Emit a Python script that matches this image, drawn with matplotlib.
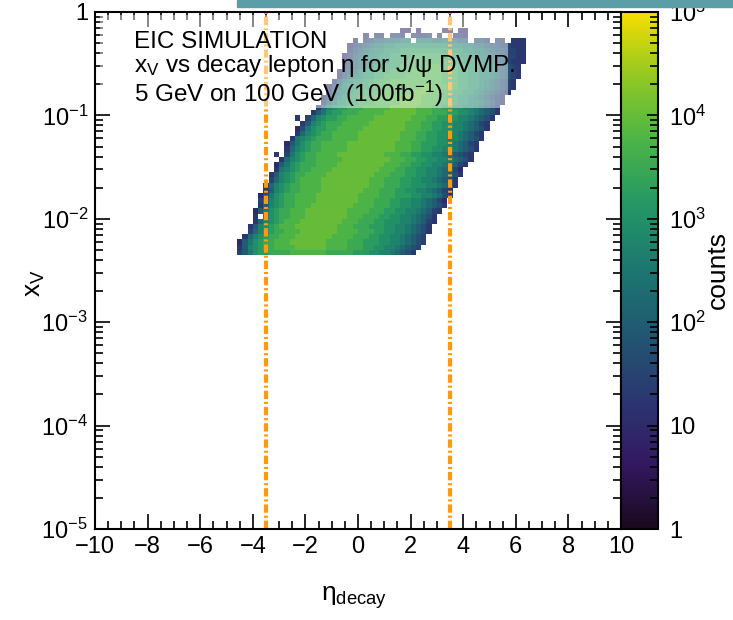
import numpy as np
import matplotlib.pyplot as plt
from matplotlib.colors import LogNorm, LinearSegmentedColormap
from matplotlib.patches import Rectangle
from matplotlib.ticker import LogLocator, MultipleLocator, FuncFormatter, NullFormatter

plt.rcParams['font.family'] = 'Liberation Sans'
plt.rcParams['mathtext.fontset'] = 'custom'
plt.rcParams['mathtext.rm'] = 'Liberation Sans'
plt.rcParams['mathtext.it'] = 'Liberation Sans'
plt.rcParams['mathtext.bf'] = 'Liberation Sans:bold'

# histogram binning: 100 bins in eta, 100 log bins in x_V
eta_edges = np.linspace(-10, 10, 101)
xv_edges = np.logspace(-5, 0, 101)

# cell code -> log10(counts) = index / 4, '.' = empty cell
levels = "0123456789ABCDEFGHIJ"

# histogram rows, bottom row (x_V bin 53) to top row (bin 96)
first_row = 53
row_eta0 = [-4.6, -4.6, -4.6, -4.4, -4.2, -4.2, -4.0, -4.0, -4.0, -3.8,
            -3.8, -3.8, -3.6, -3.6, -3.4, -3.4, -3.2, -3.2, -3.0, -3.2,
            -2.8, -2.8, -2.6, -2.4, -2.4, -2.2, -2.4, -1.8, -1.6, -1.4,
            -1.4, -1.2, -1.2, -1.0, -0.8, -0.8, -0.6, -0.6, -0.6, -0.4,
            -0.4, -0.2, 0.2, 1.6]
row_cells = [
    "68ACDDEEEEFFFFFFFEEEEEDDDCCBBA9875",
    "58BCDEEFFFFGGGGGGFFFFEEEDDCCBBA9876",
    "48ACDEEFFFGGGGGGGFFFFEEEDDDCCBBA9876",
    "59BCDEEFFFGGGGGGGFFFFEEEDDCCBBA9876",
    "69BCDEEFFFGGGGGGGFFFFEEEDDCCBBA9875",
    "58BCDEFFFGGGGGGGGFFFEEEDDDCCBBA9875",
    "59BCDEFFFGGGGGGGGFFFEEEDDCCCBBA9865",
    "5.ACDEEFFFGGGGGGGGFFFEEEDDCCBBA9875",
    "48ACDEEFFFGGGGGGGGFFFFEEEDDCCBBA9865",
    "58BCDEEFFFGGGGGGGGFFFFEEEDDCCBBA9875",
    "69BCDEEFFFFGGGGGGGGFFFEEEDDCCBBA9864",
    "47ACDEEFFFFGGGGGGGGFFFFEEEDDDCCBBA975",
    "58BCDEEFFFFGGGGGGGGFFFEEEDDCCBBA9865",
    "59BCDEEFFFFGGGGGGGGGFFFEEEDDCCCBBA975",
    "69BCDEFFFFGGGGGGGGGFFFEEEDDCCBBA9875",
    "58BCDEEFFFFGGGGGGGGGFFFEEEDDCCBBA9875",
    "5ABCDEEFFFFGGGGGGGGGFFFEEDDCCBBA9864",
    "48ACDEEEFFFFGGGGGGGGGFFFEEDDCCBBA9865",
    "59BCDEEFFFFFGGGGGGGGGFFFEEDDCCBBA9875",
    "5.6ACDEEFFFFGGGGGGGGGFFFEEDDCCBBA98765",
    "59BCDEEFFFFFGGGGGGGGGFFFEEDDCCBBA9875",
    "48ACDEEFFFFFGGGGGGGGGFFFEEDDDCCBA9865",
    "5ABCDEEEFFFFFGGGGGGGGFFFEEDDCCBBA9875",
    "59BCDEEFFFFFGGGGGGGGFFFEEDDCCBBA9865",
    "47ACDDEEFFFFFGGGGGGGGFFFEEDDCCBBA9875",
    "58BCDEEEFFFFFGGGGGGGFFFEEDDCCBBA9865",
    "5.69BCDDEEFFFFFGGGGGGGFFFEEDDCCBBA9875",
    "58ACDDEEEFFFFFGGGGGGFFFEEEDDCCBA9875",
    "59BCDDEEEFFFFFGGGGGFFFEEDDCCBBA9875",
    "58ACCDDEEEFFFFFGGGGFFFEEDDCCBBA9865",
    "479BCDDEEEFFFFFFGGGFFFEEDDCCBA98765",
    "58ABCDDEEEFFFFFFGGGFFFEEDDCCBA98765",
    "479BCCDDEEEFFFFFFFGGFFFEEDDCCBA98765",
    "58ABCCDDEEEFFFFFFFFFFEEEDDCCBA98765",
    "479ABCCDDEEEEFFFFFFFEEEDDCCBBA98765",
    "5789BCCDDDEEEEFFFFFFEEEDDCCBBA98765",
    "5789ABCCDDDEEEEEFFFEEEDDCCBBA98765",
    "4789ABBCCDDDEEEEEEEEDDDCCBBA9876555",
    "4689ABBCCDDDDEEEEEEDDDCCBBAA9876655",
    "5789ABBCCCDDDDDDDDDCCCBBAA98776655",
    "46789AABBCCCCCCCCCCBBBAA9987766555",
    "4.6788999AA.AAA99A9988.776.66.555",
    "4.55.665.6556.5..554",
    "44.4....44.44",
]

eta_cut = [-3.5, 3.5]
box_text = ["EIC SIMULATION",
            r"$\mathregular{x_{V}}$ vs decay lepton η for J/ψ DVMP.",
            r"5 GeV on 100 GeV (100fb$^{\mathregular{-1}}$)"]

# ROOT kViridis palette
root_viridis = LinearSegmentedColormap.from_list('root_viridis', [
    (26 / 255, 9 / 255, 30 / 255), (51 / 255, 24 / 255, 96 / 255),
    (43 / 255, 55 / 255, 112 / 255), (33 / 255, 87 / 255, 114 / 255),
    (28 / 255, 118 / 255, 112 / 255), (35 / 255, 150 / 255, 101 / 255),
    (74 / 255, 180 / 255, 72 / 255), (144 / 255, 200 / 255, 35 / 255),
    (246 / 255, 222 / 255, 0 / 255)])

# fill the 2D histogram
counts = np.full((100, 100), np.nan)
for r, (eta0, cells) in enumerate(zip(row_eta0, row_cells)):
    j0 = int(round((eta0 + 10) / 0.2))
    for i, c in enumerate(cells):
        if c != '.':
            counts[first_row + r, j0 + i] = 10 ** (levels.index(c) / 4)

fig = plt.figure(figsize=(7.33, 6.2), dpi=100)
ax = fig.add_axes([95 / 733, 91 / 620, 526 / 733, 517 / 620])
cax = fig.add_axes([621 / 733, 91 / 620, 37 / 733, 517 / 620])

mesh = ax.pcolormesh(eta_edges, xv_edges, counts, cmap=root_viridis,
                     norm=LogNorm(1, 1e5), zorder=1)
for e in eta_cut:
    ax.axvline(e, color='#ff9a10', lw=3, dashes=(2, 0.7, 0.5, 0.7), zorder=2)

ax.set_yscale('log')
ax.set_xlim(-10, 10)
ax.set_ylim(1e-5, 1)

# translucent text box
ax.add_patch(Rectangle((0.01, 0.814), 0.775, 0.18, transform=ax.transAxes,
                       facecolor='white', alpha=0.45, edgecolor='none', zorder=3))
for t, yy in zip(box_text, [0.930, 0.884, 0.826]):
    ax.text(0.074, yy, t, transform=ax.transAxes, fontsize=17.5, zorder=4)

def log_label(v, pos):
    if v == 1:
        return '1'
    if v == 10:
        return '10'
    return r'$\mathregular{10^{%d}}$' % int(round(np.log10(v)))

ax.xaxis.set_major_locator(MultipleLocator(2))
ax.xaxis.set_minor_locator(MultipleLocator(0.5))
ax.yaxis.set_major_locator(LogLocator(10, numticks=10))
ax.yaxis.set_minor_locator(LogLocator(10, subs=np.arange(2, 10), numticks=20))
ax.yaxis.set_major_formatter(FuncFormatter(log_label))
ax.yaxis.set_minor_formatter(NullFormatter())
ax.tick_params(which='both', direction='in', top=True, right=True, width=1.2,
               labelsize=17)
ax.tick_params(which='major', length=10.8)
ax.tick_params(which='minor', length=5.8)
ax.tick_params(axis='x', pad=5)
ax.tick_params(axis='y', pad=5)
for s in ax.spines.values():
    s.set_linewidth(1.5)

cb = fig.colorbar(mesh, cax=cax)
cb.outline.set_linewidth(1.5)
cax.yaxis.set_major_locator(LogLocator(10, numticks=10))
cax.yaxis.set_minor_locator(LogLocator(10, subs=np.arange(2, 10), numticks=20))
cax.yaxis.set_major_formatter(FuncFormatter(log_label))
cax.yaxis.set_minor_formatter(NullFormatter())
cax.tick_params(which='both', direction='in', right=True, left=False, width=1.2,
                labelsize=17, pad=8)
cax.tick_params(which='major', length=8)
cax.tick_params(which='minor', length=6)

fig.text(354 / 733, 1 - 598 / 620, r'$\mathregular{\eta_{decay}}$', fontsize=19,
         ha='center', va='center')
fig.text(35 / 733, 1 - 283 / 620, r'$\mathregular{x_{V}}$', fontsize=19,
         rotation=90, ha='center', va='center')
fig.text(718 / 733, 1 - 270 / 620, 'counts', fontsize=19, rotation=90,
         ha='center', va='center')

# strip at the top of the screenshot
fig.patches.append(Rectangle((237 / 733, 1 - 7 / 620), 496 / 733, 7 / 620,
                             transform=fig.transFigure, color='#5b9ea7'))

fig.savefig('out.png', dpi=100)
